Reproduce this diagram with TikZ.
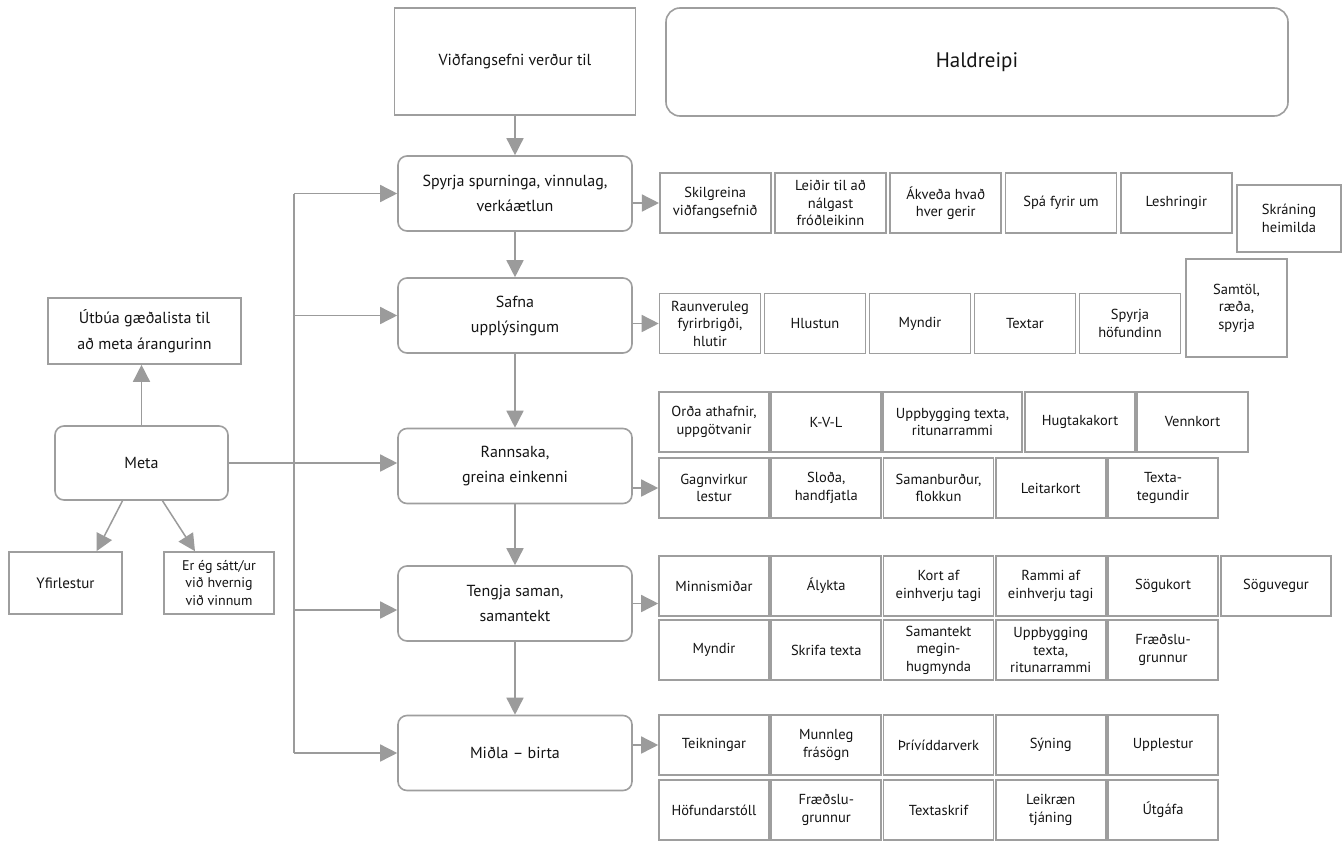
\documentclass[tikz,border=0pt]{standalone}
\usepackage{fontspec}
\setmainfont{PT Sans}
\usetikzlibrary{arrows.meta}
\definecolor{rammi}{RGB}{158,158,158}
\definecolor{leid}{RGB}{155,155,155}
\definecolor{letur}{RGB}{20,20,20}

\begin{document}
\begin{tikzpicture}[x=1pt, y=-1pt,
	box/.style={draw=rammi, line width=1.6pt, fill=white, text=letur, align=center, inner sep=0pt},
	mainbox/.style={box, rounded corners=9pt, minimum width=234pt, minimum height=75pt, font=\fontsize{16}{25}\selectfont},
	plainbox/.style={box, font=\fontsize{16}{25}\selectfont},
	subbox/.style={box, minimum height=60pt, font=\fontsize{14.5}{17.5}\selectfont},
	arr/.style={draw=leid, line width=1.5pt, -{Triangle[length=17pt,width=17pt]}},
	line/.style={draw=leid, line width=1.5pt}]
	\path[use as bounding box, fill=white] (0,0) rectangle (1344,841);

	% efsta rod
	\node[plainbox, minimum width=241pt, minimum height=107pt] (vid) at (515,61.5) {Viðfangsefni verður til};
	\node[box, rounded corners=14pt, minimum width=622pt, minimum height=108pt, font=\fontsize{21}{25}\selectfont] (hald) at (977,62) {Haldreipi};

	% adalferlid
	\node[mainbox] (spyrja) at (515,193.5) {Spyrja spurninga, vinnulag,\\verkáætlun};
	\node[mainbox] (safna) at (515,315.5) {Safna\\upplýsingum};
	\node[mainbox] (rannsaka) at (515,466) {Rannsaka,\\greina einkenni};
	\node[mainbox] (tengja) at (515,603.5) {Tengja saman,\\samantekt};
	\node[mainbox] (midla) at (515,753) {Miðla -- birta};

	% mat
	\node[plainbox, minimum width=193pt, minimum height=66pt, font=\fontsize{16}{26}\selectfont] (utbua) at (144.5,331) {Útbúa gæðalista til\\að meta árangurinn};
	\node[mainbox, minimum width=173pt, minimum height=74pt] (meta) at (141.5,463) {Meta};
	\node[plainbox, minimum width=113pt, minimum height=62pt, font=\fontsize{15}{18}\selectfont] (yfir) at (65.5,583) {Yfirlestur};
	\node[plainbox, minimum width=110pt, minimum height=62pt, font=\fontsize{14}{17.5}\selectfont] (erheg) at (219,583) {Er ég sátt/ur\\við hvernig\\við vinnum};

	% spyrja
	\foreach \t [count=\i] in {{Skilgreina\\viðfangsefnið},{Leiðir til að\\nálgast\\fróðleikinn},{Ákveða hvað\\hver gerir},{Spá fyrir um},{Leshringir}}
		\node[subbox, minimum width=111pt] (s\i) at ({600+115.25*\i},203) {\t};
	\node[subbox, minimum width=104pt, minimum height=67pt] (s6) at (1289,218.5) {Skráning\\heimilda};

	% safna
	\foreach \t [count=\i] in {{Raunveruleg\\fyrirbrigði,\\hlutir},{Hlustun},{Myndir},{Textar},{Spyrja\\höfundinn}}
		\node[subbox, minimum width=101pt] (r\i) at ({605+105*\i},323.5) {\t};
	\node[subbox, minimum width=101pt, minimum height=98pt] (r6) at (1236.5,308) {Samtöl,\\ræða,\\spyrja};

	% rannsaka
	\node[subbox, minimum width=110pt] (a1) at (714,422) {Orða athafnir,\\uppgötvanir};
	\node[subbox, minimum width=110pt] (a2) at (826,422) {K-V-L};
	\node[subbox, minimum width=139pt] (a3) at (952.5,422) {Uppbygging texta,\\ritunarrammi};
	\node[subbox, minimum width=110pt] (a4) at (1080,422) {Hugtakakort};
	\node[subbox, minimum width=111pt] (a5) at (1192.5,422) {Vennkort};
	\foreach \t [count=\i] in {{Gagnvirkur\\lestur},{Sloða,\\handfjatla},{Samanburður,\\flokkun},{Leitarkort},{Texta-\\tegundir}}
		\node[subbox, minimum width=110pt] (g\i) at ({601.75+112.25*\i},488) {\t};

	% tengja
	\foreach \t [count=\i] in {{Minnismiðar},{Álykta},{Kort af\\einhverju tagi},{Rammi af\\einhverju tagi},{Sögukort}}
		\node[subbox, minimum width=110pt] (m\i) at ({601.75+112.25*\i},586) {\t};
	\node[subbox, minimum width=110pt] (m6) at (1276,586) {Söguvegur};
	\foreach \t [count=\i] in {{Myndir},{Skrifa texta},{Samantekt\\megin-\\hugmynda},{Uppbygging\\texta,\\ritunarrammi},{Fræðslu-\\grunnur}}
		\node[subbox, minimum width=110pt] (n\i) at ({601.75+112.25*\i},650) {\t};

	% midla
	\foreach \t [count=\i] in {{Teikningar},{Munnleg\\frásögn},{Þrívíddarverk},{Sýning},{Upplestur}}
		\node[subbox, minimum width=110pt] (t\i) at ({601.75+112.25*\i},745) {\t};
	\foreach \t [count=\i] in {{Höfundarstóll},{Fræðslu-\\grunnur},{Textaskrif},{Leikræn\\tjáning},{Útgáfa}}
		\node[subbox, minimum width=110pt] (h\i) at ({601.75+112.25*\i},810) {\t};

	% tengingar
	\coordinate (bt) at (294,193.5);
	\coordinate (tw) at ([yshift=-6.5pt]tengja.west);
	\draw[line] (bt) -- (bt |- midla.west);
	\path
		(vid) edge[arr] (spyrja)
		(spyrja) edge[arr] (safna)
		(safna) edge[arr] (rannsaka)
		(rannsaka) edge[arr] (tengja)
		(tengja) edge[arr] (midla)
		(spyrja.east |- s1.west) edge[arr] (s1.west)
		(safna.east |- r1.west) edge[arr] (r1.west)
		(rannsaka.east |- g1.west) edge[arr] (g1.west)
		(tengja.east) edge[arr] (tengja.east -| m1.west)
		(midla.east |- t1.west) edge[arr] (t1.west)
		(bt) edge[arr] (bt -| spyrja.west)
		(bt |- safna.west) edge[arr] (safna.west)
		(tw -| bt) edge[arr] (tw)
		(bt |- midla.west) edge[arr] (midla.west)
		(meta.east) edge[arr] (meta.east -| rannsaka.west)
		(meta.north) edge[arr] (meta.north |- utbua.south)
		([xshift=-19pt]meta.south) edge[arr] ([xshift=31pt]yfir.north)
		([xshift=21pt]meta.south) edge[arr] ([xshift=-24pt]erheg.north);
\end{tikzpicture}
\end{document}
